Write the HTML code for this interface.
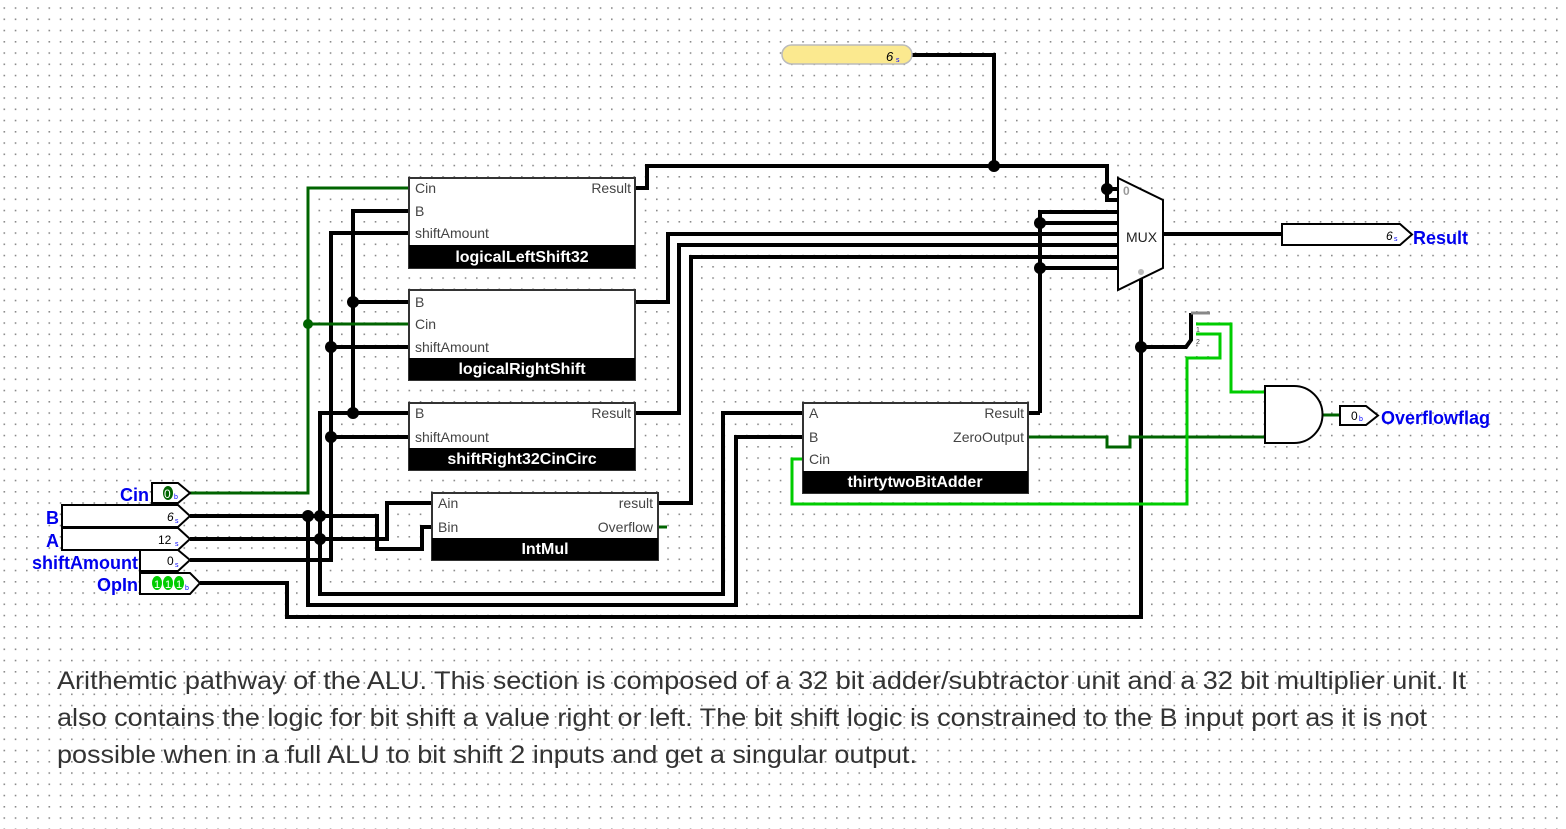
<!DOCTYPE html>
<html><head><meta charset="utf-8"><style>
html,body{margin:0;padding:0;background:#fff;}
svg{display:block;}
text{font-family:"Liberation Sans",sans-serif;}
</style></head><body>
<svg width="1566" height="829" viewBox="0 0 1566 829" xmlns="http://www.w3.org/2000/svg">
<defs>
<pattern id="g" patternUnits="userSpaceOnUse" x="3.5" y="7.25" width="11.25" height="11.25">
<rect x="0" y="0" width="1.6" height="1.6" fill="#8a8a8a"/>
</pattern>
</defs>
<rect width="1566" height="829" fill="#fff"/>
<rect width="1566" height="829" fill="url(#g)"/>

<g fill="none" stroke="#000" stroke-width="4" stroke-linejoin="miter">
<polyline points="912,55 994,55 994,166"/>
<polyline points="635,188 647,188 647,166 1107,166 1107,200 1118,200"/>
<line x1="1107" y1="189" x2="1118" y2="189"/>
<polyline points="1040,413 1040,212 1118,212"/>
<line x1="1040" y1="223" x2="1118" y2="223"/>
<line x1="1040" y1="268" x2="1118" y2="268"/>
<polyline points="635,302 668,302 668,234 1118,234"/>
<polyline points="635,413 679,413 679,245 1118,245"/>
<polyline points="658,503 691,503 691,257 1118,257"/>
<polyline points="1028,413 1040,413"/>
<line x1="1163" y1="234" x2="1282" y2="234"/>
<polyline points="1141,270 1141,617 287,617 287,583 200,583"/>
<polyline points="1141,347 1186,347 1191,340 1191,313"/>
<polyline points="409,211 353,211 353,413"/>
<line x1="353" y1="302" x2="409" y2="302"/>
<polyline points="409,233 331,233 331,560 190,560"/>
<line x1="331" y1="347" x2="409" y2="347"/>
<line x1="331" y1="437" x2="409" y2="437"/>
<polyline points="409,413 320,413 320,594 723,594 723,413 803,413"/>
<polyline points="190,516 377,516 377,549 422,549 422,527 432,527"/>
<polyline points="190,539 387,539 387,503 432,503"/>
<polyline points="308,516 308,605 736,605 736,437 803,437"/>
</g>
<line x1="1191" y1="313" x2="1210" y2="313" stroke="#888" stroke-width="3"/>

<g fill="none" stroke-width="3">
<polyline stroke="#006400" points="190,493 308,493 308,188 409,188"/>
<line stroke="#006400" x1="308" y1="324" x2="409" y2="324"/>
<polyline stroke="#006400" points="1028,437 1107,437 1107,447 1130,447 1130,437 1265,437"/>
<line stroke="#006400" x1="1322" y1="415" x2="1340" y2="415"/>
<line stroke="#006400" x1="658" y1="527" x2="667" y2="527"/>
<polyline stroke="#00cc00" points="803,459 792,459 792,504 1187,504 1187,358 1220,358 1220,334 1196,334"/>
<polyline stroke="#00cc00" points="1196,324 1231,324 1231,392 1265,392"/>
</g>

<g fill="#000">
<circle cx="994" cy="166" r="6"/><circle cx="1107" cy="189" r="6"/>
<circle cx="1040" cy="223" r="6"/><circle cx="1040" cy="268" r="6"/>
<circle cx="1141" cy="347" r="6"/>
<circle cx="353" cy="302" r="6"/><circle cx="353" cy="413" r="6"/>
<circle cx="331" cy="347" r="6"/><circle cx="331" cy="437" r="6"/>
<circle cx="308" cy="516" r="6"/><circle cx="320" cy="516" r="6"/><circle cx="320" cy="539" r="6"/>
</g>
<circle cx="308" cy="324" r="5" fill="#006400"/>

<rect x="782" y="45" width="130" height="19" rx="9.5" fill="#fbe98f" stroke="#bbb" stroke-width="1.5"/>
<text x="886" y="61" font-size="13" font-style="italic">6</text><text x="896" y="62" font-size="7" fill="#00f">s</text>

<g stroke="#333" stroke-width="2">
<rect x="409" y="178" width="226" height="90" fill="#fff"/>
<rect x="409" y="290" width="226" height="90" fill="#fff"/>
<rect x="409" y="403" width="226" height="67" fill="#fff"/>
<rect x="432" y="493" width="226" height="67" fill="#fff"/>
<rect x="803" y="403" width="225" height="90" fill="#fff"/>
</g>
<g fill="#000">
<rect x="409" y="245" width="226" height="23"/>
<rect x="409" y="358" width="226" height="22"/>
<rect x="409" y="448" width="226" height="22"/>
<rect x="432" y="538" width="226" height="22"/>
<rect x="803" y="471" width="225" height="22"/>
</g>
<g font-size="14" fill="#444">
<text x="415" y="193">Cin</text><text x="631" y="193" text-anchor="end">Result</text>
<text x="415" y="216">B</text><text x="415" y="238">shiftAmount</text>
<text x="415" y="307">B</text><text x="415" y="329">Cin</text><text x="415" y="352">shiftAmount</text>
<text x="415" y="418">B</text><text x="631" y="418" text-anchor="end">Result</text><text x="415" y="442">shiftAmount</text>
<text x="438" y="508">Ain</text><text x="438" y="532">Bin</text>
<text x="653" y="508" text-anchor="end">result</text><text x="653" y="532" text-anchor="end">Overflow</text>
<text x="809" y="418">A</text><text x="809" y="442">B</text><text x="809" y="464">Cin</text>
<text x="1024" y="418" text-anchor="end">Result</text><text x="1024" y="442" text-anchor="end">ZeroOutput</text>
</g>
<g font-size="16" font-weight="bold" fill="#fff" text-anchor="middle">
<text x="522" y="262">logicalLeftShift32</text>
<text x="522" y="374">logicalRightShift</text>
<text x="522" y="464">shiftRight32CinCirc</text>
<text x="545" y="554">IntMul</text>
<text x="915" y="487">thirtytwoBitAdder</text>
</g>

<polygon points="1118,178 1163,200 1163,268 1118,290" fill="#fff" stroke="#000" stroke-width="2"/>
<text x="1126" y="242" font-size="14" fill="#222">MUX</text>
<text x="1123" y="195" font-size="12" fill="#999" font-weight="bold">0</text>
<circle cx="1141" cy="272" r="3" fill="#bbb"/>
<text x="1196" y="332" font-size="7" fill="#444">1</text><text x="1196" y="344" font-size="7" fill="#444">2</text>

<path d="M1265,386 L1294,386 A28.5,28.5 0 0 1 1294,443 L1265,443 Z" fill="#fff" stroke="#000" stroke-width="2"/>

<polygon points="1282,224 1400,224 1412,234.5 1400,245 1282,245" fill="#fff" stroke="#000" stroke-width="2"/>
<text x="1386" y="240" font-size="12" font-style="italic">6</text><text x="1394" y="241" font-size="7" fill="#00f">s</text>
<text x="1413" y="244" font-size="18" font-weight="bold" fill="#0000ee">Result</text>
<polygon points="1340,406 1366,406 1378,415.5 1366,425 1340,425" fill="#fff" stroke="#000" stroke-width="2"/>
<text x="1351" y="420" font-size="12">0</text><text x="1359" y="421" font-size="7" fill="#00f">b</text>
<text x="1381" y="424" font-size="18" font-weight="bold" fill="#0000ee">Overflowflag</text>

<g fill="#fff" stroke="#000" stroke-width="2">
<polygon points="152,483 178,483 190,493 178,503 152,503"/>
<polygon points="62,505 178,505 190,516 178,527 62,527"/>
<polygon points="62,528 178,528 190,539 178,550 62,550"/>
<polygon points="140,550 178,550 190,560 178,571 140,571"/>
<polygon points="140,573 190,573 200,583 190,594 140,594"/>
</g>
<ellipse cx="168" cy="493" rx="5" ry="7" fill="#006400"/>
<text x="164" y="498" font-size="12" fill="#fff">0</text><text x="174" y="499" font-size="7" fill="#00f">b</text>
<text x="167" y="521" font-size="12" font-style="italic">6</text><text x="175" y="523" font-size="7" fill="#00f">s</text>
<text x="158" y="544" font-size="12">12</text><text x="175" y="546" font-size="7" fill="#00f">s</text>
<text x="167" y="565" font-size="12">0</text><text x="175" y="567" font-size="7" fill="#00f">s</text>
<ellipse cx="157" cy="583" rx="5" ry="7" fill="#00cc00"/><ellipse cx="168" cy="583" rx="5" ry="7" fill="#00cc00"/><ellipse cx="179" cy="583" rx="5" ry="7" fill="#00cc00"/>
<text x="154" y="588" font-size="11" fill="#fff">1</text><text x="165" y="588" font-size="11" fill="#fff">1</text><text x="176" y="588" font-size="11" fill="#fff">1</text>
<text x="185" y="590" font-size="7" fill="#00f">b</text>
<g font-size="18" font-weight="bold" fill="#0000ee" text-anchor="end">
<text x="149" y="501">Cin</text>
<text x="59" y="524">B</text>
<text x="59" y="547">A</text>
<text x="138" y="569">shiftAmount</text>
<text x="138" y="591">OpIn</text>
</g>

<g font-size="25" fill="#333">
<text x="57" y="689" textLength="1409" lengthAdjust="spacingAndGlyphs">Arithemtic pathway of the ALU. This section is composed of a 32 bit adder/subtractor unit and a 32 bit multiplier unit. It</text>
<text x="57" y="726" textLength="1370" lengthAdjust="spacingAndGlyphs">also contains the logic for bit shift a value right or left. The bit shift logic is constrained to the B input port as it is not</text>
<text x="57" y="763" textLength="860" lengthAdjust="spacingAndGlyphs">possible when in a full ALU to bit shift 2 inputs and get a singular output.</text>
</g>
</svg>
</body></html>
